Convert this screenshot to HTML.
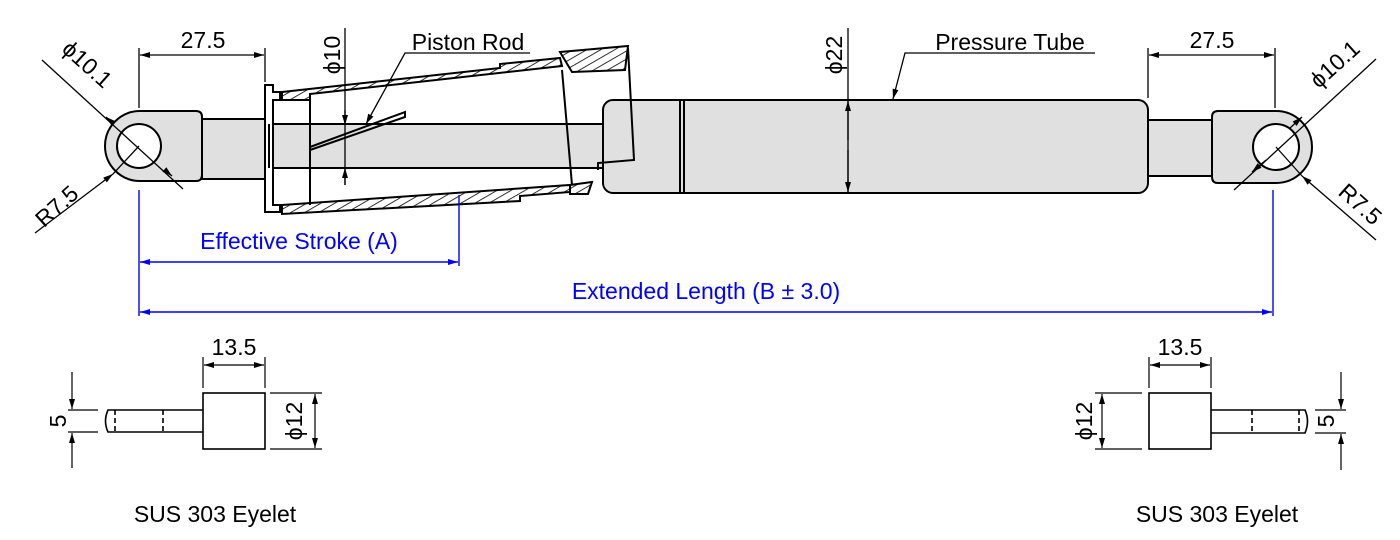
<!DOCTYPE html>
<html><head><meta charset="utf-8"><style>
html,body{margin:0;padding:0;background:#fff;width:1400px;height:540px;overflow:hidden}
svg{display:block}
text{font-family:"Liberation Sans",sans-serif;fill:#000}
</style></head><body>
<svg width="1400" height="540" viewBox="0 0 1400 540" xmlns="http://www.w3.org/2000/svg">
<defs>
<marker id="a" viewBox="0 0 10 6" refX="10" refY="3" markerWidth="14" markerHeight="6" markerUnits="userSpaceOnUse" orient="auto-start-reverse"><path d="M0,0L10,3L0,6z" fill="#000"/></marker>
<marker id="b" viewBox="0 0 10 6" refX="10" refY="3" markerWidth="14" markerHeight="6" markerUnits="userSpaceOnUse" orient="auto-start-reverse"><path d="M0,0L10,3L0,6z" fill="#00f"/></marker>
<pattern id="h" width="7" height="7" patternUnits="userSpaceOnUse" patternTransform="rotate(60)"><line x1="0" y1="0" x2="0" y2="7" stroke="#000" stroke-width="1.6"/></pattern>
</defs>
<g stroke="#000" stroke-width="2" fill="#e0e0e0">
<path d="M140,111 L196,111 Q202,111 202,117 L202,175 Q202,181 196,181 L140,181 A35,35 0 0 1 140,111z"/>
<circle cx="139" cy="146" r="22" fill="#fff"/>
<rect x="202" y="119" width="63" height="60"/>
<rect x="265" y="124" width="340" height="44"/>
<rect x="603" y="100" width="545" height="93" rx="10"/>
<line x1="680" y1="100" x2="680" y2="193"/>
<line x1="684" y1="100" x2="684" y2="193"/>
<rect x="1148" y="120" width="64" height="56"/>
<path d="M1276,111 L1218,111 Q1212,111 1212,117 L1212,177 Q1212,183 1218,183 L1276,183 A36,36 0 0 0 1276,111z"/>
<circle cx="1276" cy="147" r="23" fill="#fff"/>
</g>
<g stroke="#000" stroke-width="2" fill="none">
<path d="M265,85 L273,85 L273,92 L280,92 L280,100 L273,100 L273,205 L280,205 L280,212 L265,212z" fill="#fff"/>
<line x1="269" y1="124" x2="269" y2="168"/>
<path d="M282,92 L500,68 L500,64 L560,58 L562,66 L310,94 L310,100 L282,100z" fill="url(#h)"/>
<path d="M560,52 L628,46 L625,70 L572,72z" fill="url(#h)"/>
<path d="M282,205 L570,185 L570,192 L520,196 L520,201 L282,214z" fill="url(#h)"/>
<path d="M570,185 L592,182 L588,194 L570,194z" fill="url(#h)"/>
<path d="M310,98 L310,205"/>
<path d="M562,70 L572,185"/>
<path d="M628,48 L634,160 L598,163 L598,170"/>
<path d="M310,147 L405,112 L405,117 L310,150"/>
</g>
<g stroke="#000" stroke-width="1.3" fill="none">
<line x1="139" y1="48" x2="139" y2="108"/>
<line x1="265" y1="48" x2="265" y2="82"/>
<line x1="140" y1="55" x2="264" y2="55" marker-start="url(#a)" marker-end="url(#a)"/>
<line x1="1148" y1="48" x2="1148" y2="98"/>
<line x1="1275" y1="48" x2="1275" y2="108"/>
<line x1="1149" y1="55" x2="1274" y2="55" marker-start="url(#a)" marker-end="url(#a)"/>
<line x1="42" y1="60" x2="183" y2="189"/>
<line x1="113" y1="123" x2="106" y2="117" marker-end="url(#a)"/>
<line x1="165" y1="170" x2="172" y2="176" marker-end="url(#a)"/>
<line x1="35" y1="233" x2="113" y2="174" marker-end="url(#a)"/>
<line x1="139" y1="146" x2="113" y2="174"/>
<line x1="1376" y1="59" x2="1234" y2="190"/>
<line x1="1290" y1="128" x2="1302" y2="117" marker-end="url(#a)"/>
<line x1="1266" y1="160" x2="1252" y2="172" marker-end="url(#a)"/>
<line x1="1376" y1="240" x2="1302" y2="176" marker-end="url(#a)"/>
<line x1="1276" y1="147" x2="1302" y2="176"/>
<line x1="345" y1="28" x2="345" y2="185"/>
<line x1="345" y1="110" x2="345" y2="125" marker-end="url(#a)"/>
<line x1="345" y1="185" x2="345" y2="168" marker-end="url(#a)"/>
<line x1="848" y1="28" x2="848" y2="193"/>
<line x1="848" y1="140" x2="848" y2="101" marker-end="url(#a)"/>
<line x1="848" y1="150" x2="848" y2="192" marker-end="url(#a)"/>
<polyline points="530,53 405,53 366,124" marker-end="url(#a)"/>
<polyline points="1095,53 905,53 893,99" marker-end="url(#a)"/>
</g>
<g stroke="#00f" stroke-width="1.4" fill="none">
<line x1="139" y1="190" x2="139" y2="316"/>
<line x1="459" y1="195" x2="459" y2="266"/>
<line x1="1273" y1="190" x2="1273" y2="316"/>
<line x1="140" y1="262" x2="458" y2="262" marker-start="url(#b)" marker-end="url(#b)"/>
<line x1="140" y1="312" x2="1272" y2="312" marker-start="url(#b)" marker-end="url(#b)"/>
</g>
<text x="203" y="48" font-size="23" text-anchor="middle">27.5</text>
<text x="1212" y="48" font-size="23" text-anchor="middle">27.5</text>
<text x="468" y="50" font-size="23" text-anchor="middle">Piston Rod</text>
<text x="1010" y="50" font-size="23" text-anchor="middle">Pressure Tube</text>
<text transform="translate(340,55) rotate(-90)" font-size="23" text-anchor="middle">ϕ10</text>
<text transform="translate(842,55) rotate(-90)" font-size="23" text-anchor="middle">ϕ22</text>
<text transform="translate(82,70) rotate(42)" font-size="23" text-anchor="middle">ϕ10.1</text>
<text transform="translate(62,212) rotate(-42)" font-size="23" text-anchor="middle">R7.5</text>
<text transform="translate(1340,70) rotate(-42)" font-size="23" text-anchor="middle">ϕ10.1</text>
<text transform="translate(1355,210) rotate(42)" font-size="23" text-anchor="middle">R7.5</text>
<text x="299" y="249" font-size="23" text-anchor="middle" style="fill:#00f">Effective Stroke (A)</text>
<text x="706" y="299" font-size="23" text-anchor="middle" style="fill:#00f">Extended Length (B ± 3.0)</text>
<g stroke="#000" stroke-width="1.6" fill="none">
<rect x="203" y="393" width="62" height="56" fill="#fff"/>
<path d="M203,410 L108,410 Q103,421 108,432 L203,432"/>
<g stroke-dasharray="5,3"><line x1="115" y1="410" x2="115" y2="432"/><line x1="163" y1="410" x2="163" y2="432"/></g>
<g stroke-width="1.2">
<line x1="203" y1="357" x2="203" y2="388"/><line x1="265" y1="357" x2="265" y2="388"/>
<line x1="204" y1="365" x2="264" y2="365" marker-start="url(#a)" marker-end="url(#a)"/>
<line x1="270" y1="393" x2="322" y2="393"/><line x1="270" y1="449" x2="322" y2="449"/>
<line x1="315" y1="394" x2="315" y2="448" marker-start="url(#a)" marker-end="url(#a)"/>
<line x1="68" y1="410" x2="98" y2="410"/><line x1="68" y1="432" x2="98" y2="432"/>
<line x1="72" y1="372" x2="72" y2="409" marker-end="url(#a)"/><line x1="72" y1="468" x2="72" y2="433" marker-end="url(#a)"/>
</g>
</g>
<text x="234" y="355" font-size="23" text-anchor="middle">13.5</text>
<text transform="translate(302,421) rotate(-90)" font-size="23" text-anchor="middle">ϕ12</text>
<text transform="translate(66,421) rotate(-90)" font-size="23" text-anchor="middle">5</text>
<text x="215" y="522" font-size="23" text-anchor="middle">SUS 303 Eyelet</text>
<g stroke="#000" stroke-width="1.6" fill="none">
<rect x="1149" y="393" width="62" height="56" fill="#fff"/>
<path d="M1211,410 L1305,410 Q1310,421 1305,433 L1211,433"/>
<g stroke-dasharray="5,3"><line x1="1252" y1="410" x2="1252" y2="433"/><line x1="1299" y1="410" x2="1299" y2="433"/></g>
<g stroke-width="1.2">
<line x1="1149" y1="357" x2="1149" y2="388"/><line x1="1211" y1="357" x2="1211" y2="388"/>
<line x1="1150" y1="365" x2="1210" y2="365" marker-start="url(#a)" marker-end="url(#a)"/>
<line x1="1095" y1="393" x2="1142" y2="393"/><line x1="1095" y1="449" x2="1142" y2="449"/>
<line x1="1102" y1="394" x2="1102" y2="448" marker-start="url(#a)" marker-end="url(#a)"/>
<line x1="1315" y1="410" x2="1346" y2="410"/><line x1="1315" y1="433" x2="1346" y2="433"/>
<line x1="1341" y1="372" x2="1341" y2="409" marker-end="url(#a)"/><line x1="1341" y1="470" x2="1341" y2="434" marker-end="url(#a)"/>
</g>
</g>
<text x="1180" y="355" font-size="23" text-anchor="middle">13.5</text>
<text transform="translate(1092,421) rotate(-90)" font-size="23" text-anchor="middle">ϕ12</text>
<text transform="translate(1334,421) rotate(-90)" font-size="23" text-anchor="middle">5</text>
<text x="1217" y="522" font-size="23" text-anchor="middle">SUS 303 Eyelet</text>
</svg>
</body></html>
